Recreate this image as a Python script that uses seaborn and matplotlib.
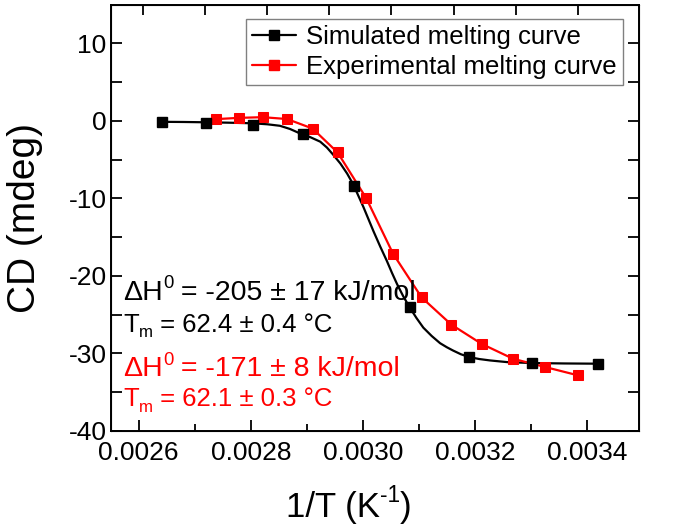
import matplotlib
matplotlib.use("Agg")
import matplotlib.pyplot as plt
from matplotlib.lines import Line2D
import seaborn as sns
import pandas as pd

# Simulated melting curve: markers
sim_x = [0.002641, 0.002720, 0.002804, 0.002893, 0.002985, 0.003084, 0.003190, 0.003302, 0.003420]
sim_y = [-0.13, -0.26, -0.55, -1.76, -8.46, -23.97, -30.47, -31.19, -31.30]

# Simulated melting curve: fitted smooth line
fit_x = [0.002642, 0.002680, 0.002720, 0.002760, 0.002804, 0.002830, 0.002852, 0.002870, 0.002888,
         0.002906, 0.002924, 0.002936, 0.002947, 0.002960, 0.002972, 0.002983, 0.003001, 0.003019,
         0.003031, 0.003043, 0.003052, 0.003061, 0.003072, 0.003084, 0.003096, 0.003108, 0.003123,
         0.003138, 0.003150, 0.003161, 0.003175, 0.003190, 0.003208, 0.003227, 0.003258, 0.003304,
         0.003360, 0.003419]
fit_y = [-0.13, -0.15, -0.19, -0.24, -0.32, -0.45, -0.64, -1.05, -1.63,
         -2.10, -2.69, -3.45, -4.36, -5.51, -6.80, -8.21, -11.10, -14.23,
         -16.20, -18.08, -19.60, -21.03, -22.60, -24.10, -25.45, -26.67, -27.75,
         -28.68, -29.20, -29.62, -30.10, -30.47, -30.72, -30.90, -31.12, -31.24,
         -31.29, -31.32]

# Experimental melting curve
exp_x = [0.0027384, 0.0027786, 0.0028214, 0.0028648, 0.0029104, 0.0029550, 0.0030060,
         0.0030540, 0.0031050, 0.0031580, 0.0032120, 0.0032680, 0.0033260, 0.0033840]
exp_y = [0.22, 0.38, 0.47, 0.23, -1.00, -4.08, -9.96,
         -17.14, -22.78, -26.28, -28.76, -30.68, -31.76, -32.82]

sim_label = "Simulated melting curve"
exp_label = "Experimental melting curve"
x_ticks = [0.0026, 0.0028, 0.0030, 0.0032, 0.0034]
x_ticklabels = ["0.0026", "0.0028", "0.0030", "0.0032", "0.0034"]
y_ticks = [-40, -30, -20, -10, 0, 10]
y_ticklabels = ["-40", "-30", "-20", "-10", "0", "10"]

# annotation runs: (text, kind) where kind is "n" normal, "sup" superscript, "sub" subscript
ann_sim_1 = [("ΔH", "n"), ("0", "sup"), (" = -205 ± 17 kJ/mol", "n")]
ann_sim_2 = [("T", "n"), ("m", "sub"), (" = 62.4 ± 0.4 °C", "n")]
ann_exp_1 = [("ΔH", "n"), ("0", "sup"), (" = -171 ± 8 kJ/mol", "n")]
ann_exp_2 = [("T", "n"), ("m", "sub"), (" = 62.1 ± 0.3 °C", "n")]
xlabel_runs = [("1/T (K", "n"), ("-1", "sup"), (")", "n")]

sns.set_style("ticks")
plt.rcParams["font.family"] = ["Liberation Sans", "DejaVu Sans"]
for k in ["text.color", "axes.labelcolor", "xtick.color", "ytick.color", "axes.edgecolor"]:
    plt.rcParams[k] = "black"

fig = plt.figure(figsize=(6.88, 5.25), dpi=100)
ax = fig.add_axes([110.7 / 688, 1 - 431 / 525, (639 - 110.7) / 688, (431 - 4.5) / 525])

df_fit = pd.DataFrame({"x": fit_x, "y": fit_y})
df_sim = pd.DataFrame({"x": sim_x, "y": sim_y})
df_exp = pd.DataFrame({"x": exp_x, "y": exp_y})

sns.lineplot(data=df_fit, x="x", y="y", ax=ax, color="black", linewidth=1.6, sort=False)
sns.lineplot(data=df_exp, x="x", y="y", ax=ax, color="#ff0000", linewidth=1.6, sort=False,
             marker="s", markersize=6.5, markeredgecolor="#ff0000", markerfacecolor="#ff0000")
ax.plot(df_sim["x"], df_sim["y"], linestyle="none", marker="s", markersize=6.5,
        color="black")

ax.set_xlim(0.00255, 0.003493)
ax.set_ylim(-40, 15)
ax.set_xticks(x_ticks)
ax.set_xticklabels(x_ticklabels)
ax.set_yticks(y_ticks)
ax.set_yticklabels(y_ticklabels)
ax.set_xticks([0.0027, 0.0029, 0.0031, 0.0033], minor=True)
ax.set_yticks([-35, -25, -15, -5, 5], minor=True)

ax.tick_params(axis="both", which="major", direction="in", length=8, width=1.3,
               labelsize=19, colors="black")
ax.tick_params(axis="x", which="major", pad=7)
ax.tick_params(axis="y", which="major", pad=3)
ax.tick_params(axis="both", which="minor", direction="in", length=5, width=1.3)
ax.tick_params(axis="y", which="both", right=True)
ax.tick_params(axis="y", which="minor", length=8)
for s in ax.spines.values():
    s.set_visible(True)
    s.set_linewidth(1.4)
    s.set_color("black")

# top axis ticks (independent scale, as in the original)
top = ax.twiny()
top.set_xlim(-0.514, 7.98)
top.set_xticks(range(0, 8))
top.set_xticklabels([])
top.tick_params(axis="x", direction="in", length=7, width=1.3, top=True, labeltop=False)
top.set_xlabel("")

ax.set_xlabel("")
ax.set_ylabel("CD (mdeg)", fontsize=28)
ax.yaxis.set_label_coords(-0.128, 0.5)

handles = [
    Line2D([], [], color="black", linewidth=1.6, marker="s", markersize=6.5),
    Line2D([], [], color="#ff0000", linewidth=1.6, marker="s", markersize=6.5),
]
leg = ax.legend(handles, [sim_label, exp_label], loc="upper right",
                bbox_to_anchor=(623 / 688, 1 - 19 / 525), bbox_transform=fig.transFigure,
                fontsize=18.5, frameon=True, fancybox=False, framealpha=1,
                edgecolor="#808080", handlelength=1.7, handletextpad=0.4,
                borderpad=0.25, labelspacing=0.2, borderaxespad=0)
leg.get_frame().set_linewidth(1.0)

renderer = fig.canvas.get_renderer()


def runs_width(runs, size):
    w = 0.0
    for txt, kind in runs:
        s = size if kind == "n" else size * 0.65
        t = fig.text(0, 0, txt, fontsize=s)
        w += t.get_window_extent(renderer).width
        t.remove()
    return w


def draw_runs(x_px, y_px, runs, size, color, center=False):
    """Draw text runs starting at pixel x, baseline at pixel y (from top)."""
    if center:
        x_px = x_px - runs_width(runs, size) / 2
    x = x_px
    for txt, kind in runs:
        if kind == "n":
            s, dy = size, 0.0
        elif kind == "sup":
            s, dy = size * 0.65, -size / 72 * 100 * 0.42
        else:
            s, dy = size * 0.65, size / 72 * 100 * 0.22
        t = fig.text(x / 688, 1 - (y_px + dy) / 525, txt, fontsize=s, color=color,
                     ha="left", va="baseline")
        x += t.get_window_extent(renderer).width


draw_runs(123, 300, ann_sim_1, 20.5, "black")
draw_runs(123, 331.5, ann_sim_2, 18.5, "black")
draw_runs(123, 376.5, ann_exp_1, 20.5, "#ff0000")
draw_runs(123, 406.5, ann_exp_2, 18.5, "#ff0000")
draw_runs(349, 517, xlabel_runs, 25, "black", center=True)

fig.savefig("out.png", dpi=100)
